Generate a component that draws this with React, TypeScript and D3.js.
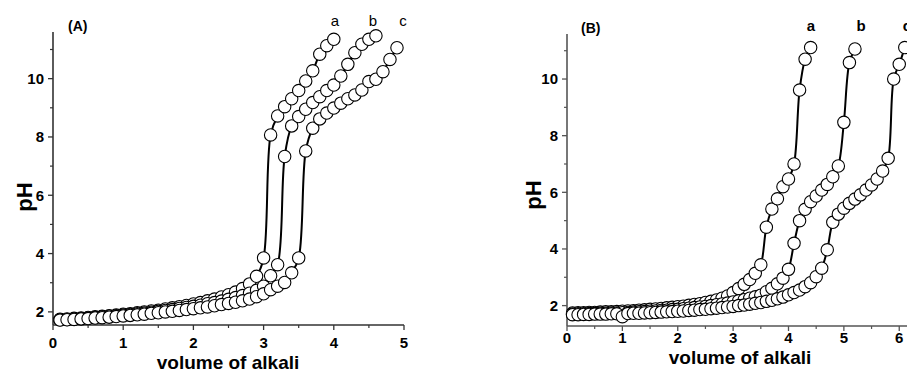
import React from 'react';
import * as d3 from 'd3';

// panel A: titration curves a, b, c (x step 0.1)
const volA_a = [0.1,0.2,0.3,0.4,0.5,0.6,0.7,0.8,0.9,1.0,1.1,1.2,1.3,1.4,1.5,1.6,1.7,1.8,1.9,2.0,2.1,2.2,2.3,2.4,2.5,2.6,2.7,2.8,2.9,3.0,3.1,3.2,3.3,3.4,3.5,3.6,3.7,3.8,3.9,4.0];
const phA_a = [1.75,1.76,1.78,1.79,1.81,1.83,1.85,1.87,1.89,1.92,1.94,1.97,2.00,2.03,2.06,2.10,2.14,2.18,2.22,2.27,2.32,2.38,2.44,2.51,2.59,2.68,2.80,2.96,3.22,3.85,8.07,8.72,9.04,9.31,9.59,9.92,10.27,10.84,11.13,11.35];

const volA_b = [0.1,0.2,0.3,0.4,0.5,0.6,0.7,0.8,0.9,1.0,1.1,1.2,1.3,1.4,1.5,1.6,1.7,1.8,1.9,2.0,2.1,2.2,2.3,2.4,2.5,2.6,2.7,2.8,2.9,3.0,3.1,3.2,3.3,3.4,3.5,3.6,3.7,3.8,3.9,4.0,4.1,4.2,4.3,4.4,4.5,4.6];
const phA_b = [1.73,1.74,1.76,1.77,1.79,1.81,1.83,1.85,1.87,1.89,1.91,1.94,1.96,1.99,2.02,2.05,2.08,2.12,2.15,2.19,2.23,2.28,2.32,2.37,2.43,2.49,2.56,2.64,2.74,2.88,3.24,3.62,7.33,8.38,8.70,8.95,9.18,9.38,9.59,9.78,10.09,10.49,10.89,11.18,11.35,11.47];

const volA_c = [0.1,0.2,0.3,0.4,0.5,0.6,0.7,0.8,0.9,1.0,1.1,1.2,1.3,1.4,1.5,1.6,1.7,1.8,1.9,2.0,2.1,2.2,2.3,2.4,2.5,2.6,2.7,2.8,2.9,3.0,3.1,3.2,3.3,3.4,3.5,3.6,3.7,3.8,3.9,4.0,4.1,4.2,4.3,4.4,4.5,4.6,4.7,4.8,4.9];
const phA_c = [1.72,1.73,1.74,1.76,1.77,1.79,1.80,1.82,1.84,1.86,1.88,1.90,1.92,1.95,1.97,2.00,2.02,2.05,2.08,2.11,2.14,2.17,2.21,2.25,2.29,2.33,2.38,2.44,2.52,2.62,2.76,2.88,3.01,3.34,3.85,7.52,8.30,8.62,8.82,8.99,9.16,9.31,9.44,9.61,9.90,9.98,10.24,10.66,11.06];

// panel B
const volB_a = [0.1,0.2,0.3,0.4,0.5,0.6,0.7,0.8,0.9,1.0,1.1,1.2,1.3,1.4,1.5,1.6,1.7,1.8,1.9,2.0,2.1,2.2,2.3,2.4,2.5,2.6,2.7,2.8,2.9,3.0,3.1,3.2,3.3,3.4,3.5,3.6,3.7,3.8,3.9,4.0,4.1,4.2,4.3,4.4];
const phB_a = [1.74,1.75,1.75,1.76,1.76,1.77,1.78,1.78,1.79,1.80,1.81,1.82,1.84,1.85,1.87,1.88,1.90,1.92,1.94,1.96,1.98,2.01,2.04,2.07,2.11,2.15,2.20,2.26,2.34,2.46,2.60,2.75,2.92,3.14,3.44,4.77,5.41,5.77,6.20,6.47,7.00,9.61,10.70,11.11];

const volB_b = [0.1,0.2,0.3,0.4,0.5,0.6,0.7,0.8,0.9,1.0,1.1,1.2,1.3,1.4,1.5,1.6,1.7,1.8,1.9,2.0,2.1,2.2,2.3,2.4,2.5,2.6,2.7,2.8,2.9,3.0,3.1,3.2,3.3,3.4,3.5,3.6,3.7,3.8,3.9,4.0,4.1,4.2,4.3,4.4,4.5,4.6,4.7,4.8,4.9,5.0,5.1,5.2];
const phB_b = [1.70,1.71,1.71,1.72,1.72,1.73,1.73,1.74,1.74,1.75,1.76,1.77,1.78,1.79,1.80,1.81,1.83,1.84,1.86,1.87,1.89,1.91,1.93,1.95,1.97,2.00,2.03,2.06,2.09,2.13,2.17,2.21,2.26,2.31,2.37,2.49,2.61,2.77,2.97,3.28,4.20,5.00,5.40,5.67,5.87,6.08,6.28,6.55,6.93,8.47,10.58,11.06];

const volB_c = [0.1,0.2,0.3,0.4,0.5,0.6,0.7,0.8,0.9,1.0,1.1,1.2,1.3,1.4,1.5,1.6,1.7,1.8,1.9,2.0,2.1,2.2,2.3,2.4,2.5,2.6,2.7,2.8,2.9,3.0,3.1,3.2,3.3,3.4,3.5,3.6,3.7,3.8,3.9,4.0,4.1,4.2,4.3,4.4,4.5,4.6,4.7,4.8,4.9,5.0,5.1,5.2,5.3,5.4,5.5,5.6,5.7,5.8,5.9,6.0,6.1];
const phB_c = [1.68,1.68,1.69,1.69,1.70,1.70,1.70,1.71,1.71,1.61,1.72,1.73,1.73,1.74,1.75,1.76,1.77,1.78,1.79,1.80,1.81,1.83,1.84,1.86,1.87,1.89,1.91,1.93,1.95,1.97,2.00,2.02,2.05,2.08,2.11,2.15,2.19,2.24,2.30,2.38,2.46,2.55,2.67,2.81,3.02,3.32,3.97,4.94,5.23,5.44,5.61,5.76,5.91,6.08,6.26,6.47,6.75,7.20,10.00,10.52,11.11];

const seriesNames = ['a', 'b', 'c'];
const xTicksA = [0, 1, 2, 3, 4, 5];
const xTicksB = [0, 1, 2, 3, 4, 5, 6];
const yTicks = [2, 4, 6, 8, 10];

const font = 'Arial, "Liberation Sans", sans-serif';

type Series = { x: number[]; y: number[] };

type PanelProps = {
  title: string;
  series: Series[];
  xDomain: [number, number];
  xRange: [number, number];
  yDomain: [number, number];
  yRange: [number, number];
  xTicks: number[];
  axisColor: string;
  tickLabelY: number;
  titleX: number;
  titleY: number;
  xTitleX: number;
  xTitleY: number;
  yTitleX: number;
  yTitleY: number;
  nameX: number[];
  nameY: number;
  nameBold: boolean;
  r: number;
};

const Panel = (p: PanelProps) => {
  const x = d3.scaleLinear().domain(p.xDomain).range(p.xRange);
  const y = d3.scaleLinear().domain(p.yDomain).range(p.yRange);
  const x0 = p.xRange[0];
  const yb = p.yRange[0];
  const line = d3.line<[number, number]>()
    .x(d => x(d[0]))
    .y(d => y(d[1]))
    .curve(d3.curveCatmullRom.alpha(0.5));

  const minorX = d3.range(0, p.xDomain[1] + 0.001, 0.5).filter(v => v % 1 !== 0);
  const minorY = d3.range(3, p.yDomain[1], 2);

  return (
    <g fontFamily={font}>
      {/* axes */}
      <line x1={x0} x2={p.xRange[1]} y1={yb} y2={yb} stroke={p.axisColor} strokeWidth={1.6} />
      <line x1={x0} x2={x0} y1={yb} y2={p.yRange[1]} stroke={p.axisColor} strokeWidth={1.6} />
      {p.xTicks.map(t => (
        <g key={'xt' + t}>
          <line x1={x(t)} x2={x(t)} y1={yb} y2={yb + 5} stroke={p.axisColor} strokeWidth={1.3} />
          <text x={x(t)} y={p.tickLabelY} textAnchor="middle" fontSize={15} fontWeight="bold">{t}</text>
        </g>
      ))}
      {minorX.map(t => (
        <line key={'xm' + t} x1={x(t)} x2={x(t)} y1={yb} y2={yb + 3} stroke={p.axisColor} strokeWidth={1.2} />
      ))}
      {yTicks.map(t => (
        <g key={'yt' + t}>
          <line x1={x0 - 5} x2={x0} y1={y(t)} y2={y(t)} stroke={p.axisColor} strokeWidth={1.3} />
          <text x={x0 - 9} y={y(t)} dy="0.36em" textAnchor="end" fontSize={15} fontWeight="bold">{t}</text>
        </g>
      ))}
      {minorY.map(t => (
        <line key={'ym' + t} x1={x0 - 3} x2={x0} y1={y(t)} y2={y(t)} stroke={p.axisColor} strokeWidth={1.2} />
      ))}
      <text x={p.xTitleX} y={p.xTitleY} textAnchor="middle" fontSize={19} fontWeight="bold">volume of alkali</text>
      <text transform={`translate(${p.yTitleX},${p.yTitleY}) rotate(-90)`} textAnchor="middle" fontSize={22} fontWeight="bold">pH</text>
      <text x={p.titleX} y={p.titleY} fontSize={14} fontWeight="bold">{p.title}</text>

      {/* data */}
      {p.series.map((s, i) => {
        const pts = s.x.map((v, j) => [v, s.y[j]] as [number, number]);
        return (
          <g key={'s' + i}>
            <path d={line(pts) || ''} fill="none" stroke="#000" strokeWidth={2} />
            {pts.map((d, j) => (
              <circle key={j} cx={x(d[0])} cy={y(d[1])} r={p.r} fill="#fff" stroke="#000" strokeWidth={1.1} />
            ))}
          </g>
        );
      })}
      {seriesNames.map((n, i) => (
        <text key={n} x={p.nameX[i]} y={p.nameY} textAnchor="middle" fontSize={15} fontWeight={p.nameBold ? 'bold' : 'normal'}>{n}</text>
      ))}
    </g>
  );
};

export default function App() {
  return (
    <svg width={907} height={373} style={{ position: 'absolute', left: 0, top: 0, background: '#fff' }}>
      <Panel
        title="(A)"
        series={[{ x: volA_a, y: phA_a }, { x: volA_b, y: phA_b }, { x: volA_c, y: phA_c }]}
        xDomain={[0, 5]}
        xRange={[53, 404]}
        yDomain={[1.55, 11.6]}
        yRange={[325, 32]}
        xTicks={xTicksA}
        axisColor="#333"
        tickLabelY={348}
        titleX={68}
        titleY={31}
        xTitleX={228}
        xTitleY={369}
        yTitleX={32}
        yTitleY={197}
        nameX={[335, 373, 403]}
        nameY={26}
        nameBold={false}
        r={6.2}
      />
      <Panel
        title="(B)"
        series={[{ x: volB_a, y: phB_a }, { x: volB_b, y: phB_b }, { x: volB_c, y: phB_c }]}
        xDomain={[0, 6.14]}
        xRange={[567, 907]}
        yDomain={[1.28, 11.59]}
        yRange={[326, 34]}
        xTicks={xTicksB}
        axisColor="#555"
        tickLabelY={343}
        titleX={581}
        titleY={33}
        xTitleX={740}
        xTitleY={364}
        yTitleX={541}
        yTitleY={195}
        nameX={[811, 861, 907]}
        nameY={31}
        nameBold={true}
        r={6.2}
      />
    </svg>
  );
}
